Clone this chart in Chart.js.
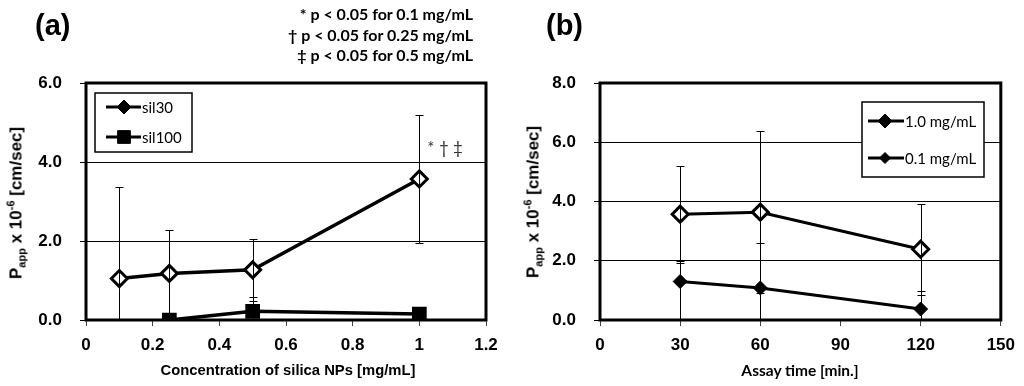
<!DOCTYPE html>
<html>
<head>
<meta charset="utf-8">
<script src="https://cdn.jsdelivr.net/npm/chart.js@4.4.0/dist/chart.umd.min.js"></script>
<style>
  body { margin: 0; background: #fff; width: 1024px; height: 386px; overflow: hidden; position: relative; font-family: "Liberation Sans", Arial, sans-serif; }
  .box { position: absolute; top: 0; width: 512px; height: 386px; }
  #boxA { left: 0; }
  #boxB { left: 512px; }
  .panel { position: absolute; top: 8px; font-weight: bold; font-size: 29px; line-height: 34px; }
  .ytitle { position: absolute; font-weight: bold; font-size: 17px; white-space: nowrap; transform: translate(-50%, -50%) rotate(-90deg); line-height: 20px; }
  .ytitle sub, .ytitle sup { font-size: 11px; }
  .xtitle { position: absolute; font-weight: bold; white-space: nowrap; transform: translate(-50%, -50%); }
  .notes { position: absolute; right: 551px; top: 4px; font-family: Lato, sans-serif; font-weight: bold; font-size: 16px; line-height: 20.5px; text-align: right; }
</style>
</head>
<body>
<div class="box" id="boxA"><canvas id="chartA"></canvas></div>
<div class="box" id="boxB"><canvas id="chartB"></canvas></div>

<div class="panel" style="left:35px">(a)</div>
<div class="panel" style="left:546px">(b)</div>
<div class="notes">* p &lt; 0.05 for 0.1 mg/mL<br>&dagger; p &lt; 0.05 for 0.25 mg/mL<br>&Dagger; p &lt; 0.05 for 0.5 mg/mL</div>
<div class="ytitle" style="left:16px;top:203px">P<sub>app</sub> x 10<sup>-6</sup> [cm/sec]</div>
<div class="ytitle" style="left:533px;top:202px">P<sub>app</sub> x 10<sup>-6</sup> [cm/sec]</div>
<div class="xtitle" style="left:288px;top:370px;font-size:14.8px">Concentration of silica NPs [mg/mL]</div>
<div class="xtitle" style="left:800px;top:370px;font-size:15.5px;font-family:Lato,sans-serif">Assay time [min.]</div>

<script>
// panel (a): Papp vs concentration
const conc30 = [0.1, 0.25, 0.5, 1];
const sil30 = [1.05, 1.18, 1.27, 3.57];
const sil30Err = [2.32, 1.10, 0.78, 1.63];
const conc100 = [0.25, 0.5, 1];
const sil100 = [0.0, 0.22, 0.15];
const sil100Err = [0.05, 0.37, 0.08];

// panel (b): Papp vs assay time
const times = [30, 60, 120];
const high = [3.57, 3.64, 2.39];
const highErr = [1.63, 2.73, 1.53];
const low = [1.30, 1.08, 0.37];
const lowErrUp = [0.68, 1.53, 0.60];
const lowErrDown = [1.30, 1.53, 0.60];

const xTicksA = [0, 0.2, 0.4, 0.6, 0.8, 1, 1.2];
const xTicksB = [0, 30, 60, 90, 120, 150];

const tickFont = { family: 'Liberation Sans', size: 17, weight: 'bold' };

function pts(xs, ys) {
  return xs.map((x, i) => ({ x: x, y: ys[i] }));
}

const errorBars = {
  id: 'errorBars',
  afterDatasetsDraw(chart) {
    const { ctx, chartArea: a, scales: { x, y } } = chart;
    ctx.save();
    ctx.beginPath();
    ctx.rect(a.left, a.top, a.right - a.left, a.bottom - a.top + 1);
    ctx.clip();
    ctx.strokeStyle = '#000';
    ctx.lineWidth = 1;
    chart.data.datasets.forEach(ds => {
      ds.data.forEach((p, i) => {
        const up = ds.errUp[i];
        const dn = ds.errDown ? ds.errDown[i] : up;
        const px = Math.round(x.getPixelForValue(p.x)) + 0.5;
        const t = Math.round(y.getPixelForValue(p.y + up)) + 0.5;
        const b = Math.round(y.getPixelForValue(p.y - dn)) + 0.5;
        ctx.beginPath();
        ctx.moveTo(px, t); ctx.lineTo(px, b);
        ctx.moveTo(px - 4, t); ctx.lineTo(px + 4, t);
        ctx.moveTo(px - 4, b); ctx.lineTo(px + 4, b);
        ctx.stroke();
      });
    });
    ctx.restore();
  }
};

const frame = {
  id: 'frame',
  afterDraw(chart) {
    const { ctx, chartArea: a } = chart;
    ctx.save();
    ctx.strokeStyle = '#000';
    ctx.lineWidth = 3;
    ctx.strokeRect(a.left, a.top, a.right - a.left, a.bottom - a.top);
    ctx.restore();
  }
};

const boxLegend = {
  id: 'boxLegend',
  afterDraw(chart, args, o) {
    if (!o.rows) return;
    const ctx = chart.ctx;
    ctx.save();
    ctx.fillStyle = '#fff';
    ctx.fillRect(o.left, o.top, o.width, o.height);
    ctx.strokeStyle = '#000';
    ctx.lineWidth = 1.5;
    ctx.strokeRect(o.left, o.top, o.width, o.height);
    o.rows.forEach((r, i) => {
      const ds = chart.data.datasets[i];
      ctx.strokeStyle = '#000';
      ctx.lineWidth = 3;
      ctx.beginPath();
      ctx.moveTo(o.lineX0, r.y);
      ctx.lineTo(o.lineX1, r.y);
      ctx.stroke();
      ctx.fillStyle = '#000';
      ctx.lineWidth = 1;
      Chart.helpers.drawPoint(ctx, { pointStyle: ds.pointStyle, radius: r.radius, rotation: 0, borderWidth: 1 }, o.markX, r.y);
      ctx.fillStyle = '#000';
      ctx.font = '15px Lato';
      ctx.textBaseline = 'middle';
      ctx.fillText(ds.label, o.textX, r.y + 1);
    });
    ctx.restore();
  }
};

const sigMark = {
  id: 'sigMark',
  afterDraw(chart, args, o) {
    if (!o.text) return;
    const { ctx, scales: { x, y } } = chart;
    ctx.save();
    ctx.fillStyle = '#333';
    ctx.font = '17px Lato';
    ctx.textBaseline = 'middle';
    ctx.fillText(o.text, x.getPixelForValue(o.atX) + 8, y.getPixelForValue(o.atY) - 13);
    ctx.restore();
  }
};

function makeChart(id, datasets, xMax, xTicks, yMax, yWidth, padRight, legend, sig) {
  return new Chart(document.getElementById(id), {
    type: 'line',
    data: { datasets: datasets },
    options: {
      responsive: true,
      maintainAspectRatio: false,
      animation: false,
      layout: { padding: { top: 83, right: padRight, left: 0, bottom: 0 } },
      plugins: {
        legend: { display: false },
        tooltip: { enabled: false },
        boxLegend: legend,
        sigMark: sig
      },
      scales: {
        x: {
          type: 'linear',
          min: 0, max: xMax,
          afterFit: s => { s.height = 66; },
          afterBuildTicks: s => { s.ticks = xTicks.map(v => ({ value: v })); },
          grid: { drawOnChartArea: false, drawTicks: true, tickLength: 6, color: '#444' },
          border: { display: false },
          ticks: { font: tickFont, color: '#000', padding: 9, maxRotation: 0, autoSkip: false,
                   callback: v => String(Number(v.toFixed(2))) }
        },
        y: {
          min: 0, max: yMax,
          afterFit: s => { s.width = yWidth; },
          grid: { color: '#000', lineWidth: 1, tickLength: 6 },
          border: { display: false },
          ticks: { stepSize: 2, font: tickFont, color: '#000', padding: 18,
                   callback: v => v.toFixed(1) }
        }
      }
    },
    plugins: [errorBars, frame, boxLegend, sigMark]
  });
}

makeChart('chartA', [
  { label: 'sil30', data: pts(conc30, sil30), errUp: sil30Err,
    borderColor: '#000', borderWidth: 3.5, pointStyle: 'rectRot', pointRadius: 8,
    pointBorderWidth: 3, pointBackgroundColor: '#fff', pointBorderColor: '#000' },
  { label: 'sil100', data: pts(conc100, sil100), errUp: sil100Err,
    borderColor: '#000', borderWidth: 3.5, pointStyle: 'rect', pointRadius: 9,
    pointBorderWidth: 2, pointBackgroundColor: '#000', pointBorderColor: '#000' }
], 1.2, xTicksA, 6, 86, 26,
  { left: 95, top: 93, width: 97, height: 59, lineX0: 106, lineX1: 141, markX: 124, textX: 142,
    rows: [{ y: 107, radius: 7 }, { y: 137, radius: 9 }] },
  { text: '* \u2020 \u2021', atX: 1, atY: 4 });

makeChart('chartB', [
  { label: '1.0 mg/mL', data: pts(times, high), errUp: highErr,
    borderColor: '#000', borderWidth: 3, pointStyle: 'rectRot', pointRadius: 8,
    pointBorderWidth: 3, pointBackgroundColor: '#fff', pointBorderColor: '#000' },
  { label: '0.1 mg/mL', data: pts(times, low), errUp: lowErrUp, errDown: lowErrDown,
    borderColor: '#000', borderWidth: 3, pointStyle: 'rectRot', pointRadius: 7,
    pointBorderWidth: 1, pointBackgroundColor: '#000', pointBorderColor: '#000' }
], 150, xTicksB, 8, 88, 23,
  { left: 350, top: 102, width: 122, height: 75, lineX0: 356, lineX1: 392, markX: 373, textX: 393,
    rows: [{ y: 121, radius: 7 }, { y: 158, radius: 5.5 }] },
  {});
</script>
</body>
</html>
